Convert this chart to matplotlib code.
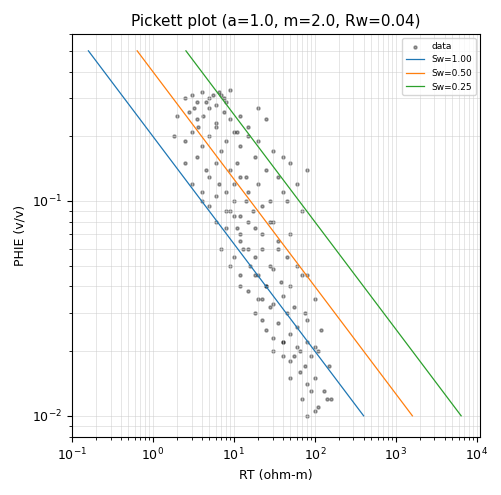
import matplotlib
matplotlib.use("Agg")
import matplotlib.pyplot as plt
import numpy as np

plt.rcParams["font.size"] = 9

a, m, rw = 1.0, 2.0, 0.04
sw_levels = [1.00, 0.50, 0.25]
phi_line = [0.5, 0.01]

# estimated data points (RT, PHIE)
rt = [2.5, 3, 3.5, 4, 5, 6, 7, 8, 9, 3.2, 4.5, 5.5, 7.5, 6.5,
      2, 2.8, 3.5, 4.2, 5, 6, 7.5, 9, 12, 15, 20, 25, 11,
      1.8, 2.5, 3, 4, 5, 6, 8, 10, 12, 15, 20, 30, 40, 3.6,
      2.5, 3.5, 4.5, 6, 7, 9, 11, 14, 18, 25, 35, 50, 80,
      3, 4, 5, 6.5, 8, 10, 12, 15, 20, 28, 40, 60, 9,
      4, 5, 6, 8, 10, 12, 14, 17, 22, 30, 45, 70, 11,
      6, 8, 10, 12, 15, 18, 22, 28, 35, 50, 13,
      7, 10, 12, 15, 18, 22, 28, 35, 45, 60, 80,
      9, 12, 16, 20, 25, 30, 38, 50, 70, 22,
      12, 15, 20, 25, 30, 40, 55, 75, 100, 18,
      18, 22, 28, 35, 45, 60, 80, 120, 40,
      25, 30, 40, 50, 65, 80, 100, 55,
      30, 40, 50, 60, 75, 90, 110, 150,
      50, 65, 80, 100, 130, 160,
      70, 90, 110, 140, 80, 100]
phie = [0.30, 0.31, 0.29, 0.32, 0.30, 0.28, 0.31, 0.29, 0.33, 0.27, 0.29, 0.31, 0.30, 0.32,
        0.25, 0.26, 0.24, 0.25, 0.27, 0.23, 0.26, 0.24, 0.25, 0.22, 0.27, 0.24, 0.21,
        0.20, 0.19, 0.21, 0.18, 0.20, 0.22, 0.19, 0.21, 0.18, 0.20, 0.19, 0.17, 0.16, 0.22,
        0.15, 0.16, 0.14, 0.15, 0.17, 0.14, 0.15, 0.13, 0.16, 0.14, 0.13, 0.15, 0.14,
        0.12, 0.11, 0.13, 0.12, 0.11, 0.12, 0.13, 0.11, 0.12, 0.10, 0.11, 0.12, 0.09,
        0.10, 0.095, 0.105, 0.09, 0.10, 0.085, 0.10, 0.09, 0.095, 0.08, 0.10, 0.09, 0.075,
        0.08, 0.075, 0.085, 0.07, 0.08, 0.075, 0.07, 0.08, 0.065, 0.07, 0.06,
        0.06, 0.055, 0.065, 0.06, 0.055, 0.06, 0.05, 0.06, 0.055, 0.05, 0.045,
        0.05, 0.045, 0.05, 0.045, 0.04, 0.048, 0.042, 0.04, 0.045, 0.035,
        0.04, 0.038, 0.035, 0.04, 0.033, 0.036, 0.032, 0.03, 0.035, 0.045,
        0.03, 0.028, 0.032, 0.027, 0.03, 0.026, 0.028, 0.025, 0.022,
        0.025, 0.023, 0.022, 0.024, 0.02, 0.022, 0.021, 0.019,
        0.02, 0.019, 0.018, 0.021, 0.017, 0.019, 0.02, 0.017,
        0.015, 0.016, 0.014, 0.015, 0.013, 0.012,
        0.012, 0.013, 0.011, 0.012, 0.01, 0.0105]

fig, ax = plt.subplots(figsize=(5.02, 4.95), dpi=100)
ax.scatter(rt, phie, s=5, c="black", alpha=0.35, label="data")
phi = np.array(phi_line)
for sw in sw_levels:
    rt_line = a * rw / (phi ** m * sw ** 2)
    ax.plot(rt_line, phi, lw=0.9, label=f"Sw={sw:.2f}")
ax.set_xscale("log")
ax.set_yscale("log")
ax.set_xlim(0.1, 1.1e4)
ax.set_ylim(0.008, 0.6)
ax.grid(True, which="both", color="#cccccc", lw=0.5, alpha=0.7)
ax.set_xlabel("RT (ohm-m)")
ax.set_ylabel("PHIE (v/v)")
ax.set_title("Pickett plot (a=1.0, m=2.0, Rw=0.04)", fontsize=11)
ax.legend(fontsize=6.5, loc="upper right")
fig.tight_layout()
fig.savefig("out.png")
